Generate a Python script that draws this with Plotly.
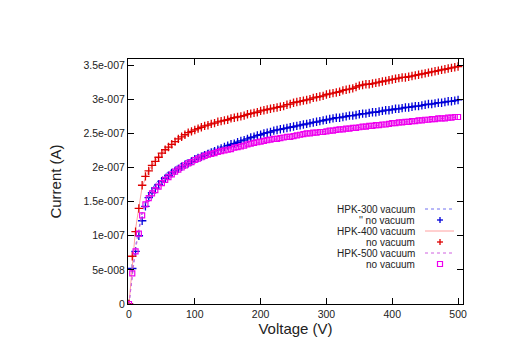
import plotly.graph_objects as go

# ---------------- data ----------------
voltage_5 = [0, 5, 10, 15, 20, 25, 30, 35, 40, 45, 50, 55, 60, 65, 70, 75, 80, 85, 90, 95,
             100, 105, 110, 115, 120, 125, 130, 135, 140, 145, 150, 155, 160, 165, 170, 175, 180, 185, 190, 195,
             200, 205, 210, 215, 220, 225, 230, 235, 240, 245, 250, 255, 260, 265, 270, 275, 280, 285, 290, 295,
             300, 305, 310, 315, 320, 325, 330, 335, 340, 345, 350, 355, 360, 365, 370, 375, 380, 385, 390, 395,
             400, 405, 410, 415, 420, 425, 430, 435, 440, 445, 450, 455, 460, 465, 470, 475, 480, 485, 490, 495, 500]

voltage_10 = [0, 10, 20, 30, 40, 50, 60, 70, 80, 90, 100, 110, 120, 130, 140, 150, 160, 170, 180, 190,
              200, 210, 220, 230, 240, 250, 260, 270, 280, 290, 300, 310, 320, 330, 340, 350, 360, 370, 380, 390,
              400, 410, 420, 430, 440, 450, 460, 470, 480, 490, 500]

# currents in units of 1e-7 A
hpk300_novac = [0, 0.52, 0.77, 1.00, 1.22, 1.43, 1.56, 1.63, 1.70, 1.75, 1.80, 1.84, 1.88, 1.92, 1.95, 1.98, 2.01, 2.04, 2.06, 2.09,
                2.12, 2.14, 2.16, 2.18, 2.20, 2.22, 2.24, 2.26, 2.28, 2.30, 2.32, 2.34, 2.35, 2.37, 2.39, 2.40, 2.42, 2.44, 2.45, 2.47,
                2.48, 2.50, 2.51, 2.52, 2.54, 2.55, 2.56, 2.57, 2.58, 2.59, 2.60, 2.61, 2.62, 2.63, 2.64, 2.65, 2.66, 2.67, 2.68, 2.69,
                2.70, 2.71, 2.72, 2.73, 2.73, 2.74, 2.75, 2.76, 2.76, 2.77, 2.78, 2.79, 2.79, 2.80, 2.81, 2.81, 2.82, 2.83, 2.84, 2.84,
                2.85, 2.86, 2.86, 2.87, 2.88, 2.88, 2.89, 2.90, 2.90, 2.91, 2.92, 2.93, 2.93, 2.94, 2.95, 2.95, 2.96, 2.97, 2.97, 2.98, 2.99]

hpk400_novac = [0, 0.70, 1.06, 1.40, 1.74, 1.87, 1.95, 2.03, 2.09, 2.15, 2.21, 2.26, 2.30, 2.34, 2.38, 2.42, 2.45, 2.48, 2.51, 2.53,
                2.55, 2.57, 2.59, 2.61, 2.62, 2.64, 2.65, 2.67, 2.68, 2.69, 2.70, 2.72, 2.73, 2.74, 2.75, 2.76, 2.78, 2.79, 2.80, 2.81,
                2.83, 2.84, 2.85, 2.86, 2.87, 2.88, 2.89, 2.90, 2.92, 2.93, 2.95, 2.96, 2.97, 2.98, 2.99, 3.00, 3.02, 3.03, 3.04, 3.05,
                3.07, 3.08, 3.09, 3.10, 3.11, 3.13, 3.14, 3.15, 3.16, 3.18, 3.20, 3.21, 3.22, 3.22, 3.23, 3.24, 3.25, 3.26, 3.27, 3.28,
                3.29, 3.30, 3.31, 3.32, 3.32, 3.33, 3.34, 3.35, 3.36, 3.37, 3.38, 3.39, 3.40, 3.41, 3.42, 3.43, 3.44, 3.45, 3.46, 3.47, 3.48]

hpk500_novac = [0, 0.45, 0.77, 1.03, 1.30, 1.46, 1.55, 1.62, 1.67, 1.72, 1.77, 1.82, 1.86, 1.90, 1.94, 1.97, 2.00, 2.03, 2.06, 2.08,
                2.11, 2.13, 2.15, 2.17, 2.19, 2.20, 2.21, 2.23, 2.24, 2.25, 2.26, 2.27, 2.29, 2.30, 2.31, 2.32, 2.34, 2.35, 2.36, 2.37,
                2.38, 2.39, 2.40, 2.41, 2.42, 2.42, 2.43, 2.44, 2.45, 2.45, 2.46, 2.47, 2.48, 2.49, 2.50, 2.50, 2.51, 2.51, 2.52, 2.52,
                2.53, 2.54, 2.54, 2.55, 2.56, 2.56, 2.57, 2.57, 2.58, 2.58, 2.59, 2.60, 2.60, 2.61, 2.61, 2.62, 2.62, 2.63, 2.63, 2.64,
                2.65, 2.65, 2.66, 2.66, 2.67, 2.67, 2.68, 2.68, 2.69, 2.69, 2.70, 2.70, 2.71, 2.71, 2.72, 2.72, 2.72, 2.73, 2.73, 2.74, 2.74]

hpk300_vac = [0, 0.85, 1.35, 1.62, 1.76, 1.86, 1.94, 2.01, 2.07, 2.12, 2.17, 2.21, 2.25, 2.28, 2.31, 2.34, 2.37, 2.40, 2.43, 2.46,
              2.48, 2.51, 2.53, 2.55, 2.57, 2.59, 2.61, 2.63, 2.65, 2.67, 2.69, 2.71, 2.72, 2.74, 2.75, 2.77, 2.78, 2.80, 2.81, 2.82,
              2.84, 2.85, 2.87, 2.88, 2.89, 2.91, 2.92, 2.94, 2.95, 2.97, 2.98]

hpk400_vac = [0, 1.10, 1.72, 1.96, 2.10, 2.21, 2.30, 2.37, 2.44, 2.50, 2.55, 2.59, 2.62, 2.65, 2.68, 2.71, 2.73, 2.75, 2.78, 2.80,
              2.83, 2.85, 2.87, 2.89, 2.92, 2.94, 2.97, 2.99, 3.01, 3.04, 3.06, 3.09, 3.11, 3.14, 3.16, 3.19, 3.21, 3.23, 3.25, 3.27,
              3.29, 3.31, 3.32, 3.34, 3.36, 3.38, 3.40, 3.42, 3.44, 3.46, 3.48]

hpk500_vac = [0, 0.80, 1.32, 1.58, 1.70, 1.80, 1.89, 1.96, 2.02, 2.08, 2.13, 2.17, 2.20, 2.23, 2.25, 2.27, 2.29, 2.31, 2.34, 2.36,
              2.38, 2.40, 2.42, 2.43, 2.45, 2.46, 2.48, 2.49, 2.51, 2.52, 2.53, 2.54, 2.56, 2.57, 2.58, 2.59, 2.60, 2.61, 2.62, 2.63,
              2.65, 2.66, 2.67, 2.68, 2.69, 2.70, 2.71, 2.72, 2.72, 2.73, 2.74]

scale = 1e-7

x_tick_vals = [0, 100, 200, 300, 400, 500]
x_tick_text = ["0", "100", "200", "300", "400", "500"]
y_tick_vals = [0, 0.5e-7, 1.0e-7, 1.5e-7, 2.0e-7, 2.5e-7, 3.0e-7, 3.5e-7]
y_tick_text = ["0", "5e-008", "1e-007", "1.5e-007", "2e-007", "2.5e-007", "3e-007", "3.5e-007"]

legend_labels = ["HPK-300 vacuum", "'' no vacuum", "HPK-400 vacuum", "no vacuum", "HPK-500 vacuum", "no vacuum"]

# ---------------- style ----------------
BLUE = "#0000d8"
RED = "#dd0000"
MAGENTA = "#ee00ee"
BLUE_LIGHT = "#7070f0"
RED_LIGHT = "#ffa0a0"
MAGENTA_LIGHT = "#d060e0"

W, H = 524, 355
L, R, T, B = 120, 455, 51, 296   # plot area in pixels
FONT = "Liberation Sans, Arial, sans-serif"


def scaled(vals):
    return [v * scale for v in vals]


fig = go.Figure()

fig.add_trace(go.Scatter(x=voltage_10, y=scaled(hpk300_vac), mode="lines",
                         line=dict(color=BLUE_LIGHT, width=1, dash="dot"), name=legend_labels[0]))
fig.add_trace(go.Scatter(x=voltage_5, y=scaled(hpk300_novac), mode="markers",
                         marker=dict(symbol="cross-thin", size=6, line=dict(color=BLUE, width=1.3)),
                         name=legend_labels[1]))
fig.add_trace(go.Scatter(x=voltage_10, y=scaled(hpk400_vac), mode="lines",
                         line=dict(color=RED_LIGHT, width=1), name=legend_labels[2]))
fig.add_trace(go.Scatter(x=voltage_5, y=scaled(hpk400_novac), mode="markers",
                         marker=dict(symbol="cross-thin", size=6, line=dict(color=RED, width=1.3)),
                         name=legend_labels[3]))
fig.add_trace(go.Scatter(x=voltage_10, y=scaled(hpk500_vac), mode="lines",
                         line=dict(color=MAGENTA_LIGHT, width=1, dash="dot"), name=legend_labels[4]))
fig.add_trace(go.Scatter(x=voltage_5, y=scaled(hpk500_novac), mode="markers",
                         marker=dict(symbol="square-open", size=5, color=MAGENTA,
                                     line=dict(color=MAGENTA, width=1.2)),
                         name=legend_labels[5]))


def px_x(p):
    return (p - L) / (R - L)


def px_y(p):
    return (B - p) / (B - T)


# ---------------- manual gnuplot-style legend ----------------
row_y = [201, 212, 223, 234, 245, 256]
text_right = 409
sample_x0, sample_x1, sample_mid = 417, 446, 432
annotations = []
shapes = []
for lbl, ry in zip(legend_labels, row_y):
    annotations.append(dict(x=px_x(text_right), y=px_y(ry), xref="paper", yref="paper",
                            text=lbl, showarrow=False, xanchor="right", yanchor="middle",
                            font=dict(family=FONT, size=10, color="#222222")))

line_styles = [(BLUE_LIGHT, "dot"), (RED_LIGHT, "solid"), (MAGENTA_LIGHT, "dot")]
for (col, dash), ry in zip(line_styles, [row_y[0], row_y[2], row_y[4]]):
    shapes.append(dict(type="line", xref="paper", yref="paper",
                       x0=px_x(sample_x0), x1=px_x(sample_x1), y0=px_y(ry), y1=px_y(ry),
                       line=dict(color=col, width=1, dash=dash)))

for col, ry in [(BLUE, row_y[1]), (RED, row_y[3])]:
    shapes.append(dict(type="line", xref="paper", yref="paper",
                       x0=px_x(sample_mid - 3), x1=px_x(sample_mid + 3), y0=px_y(ry), y1=px_y(ry),
                       line=dict(color=col, width=1.3)))
    shapes.append(dict(type="line", xref="paper", yref="paper",
                       x0=px_x(sample_mid), x1=px_x(sample_mid), y0=px_y(ry - 3), y1=px_y(ry + 3),
                       line=dict(color=col, width=1.3)))
shapes.append(dict(type="rect", xref="paper", yref="paper",
                   x0=px_x(sample_mid - 2.5), x1=px_x(sample_mid + 2.5),
                   y0=px_y(row_y[5] + 2.5), y1=px_y(row_y[5] - 2.5),
                   line=dict(color=MAGENTA, width=1.2)))

axis_common = dict(showline=True, linecolor="black", linewidth=1, mirror="ticks",
                   ticks="inside", ticklen=6, tickwidth=1, tickcolor="black",
                   showgrid=False, zeroline=False,
                   tickfont=dict(family=FONT, size=10.5, color="#222222"))

fig.update_layout(
    width=W, height=H,
    margin=dict(l=L, r=W - R, t=T, b=H - B, pad=0),
    paper_bgcolor="white", plot_bgcolor="white",
    showlegend=False,
    xaxis=dict(range=[-1.5, 507.5], tickvals=x_tick_vals, ticktext=x_tick_text,
               title=dict(text="Voltage (V)", font=dict(family=FONT, size=15, color="#222222"), standoff=4),
               **axis_common),
    yaxis=dict(range=[0, 3.59e-7], tickvals=y_tick_vals, ticktext=y_tick_text,
               title=dict(text="Current (A)", font=dict(family=FONT, size=15, color="#222222"), standoff=18),
               **axis_common),
    annotations=annotations,
    shapes=shapes,
)

fig.write_html("out.html")
